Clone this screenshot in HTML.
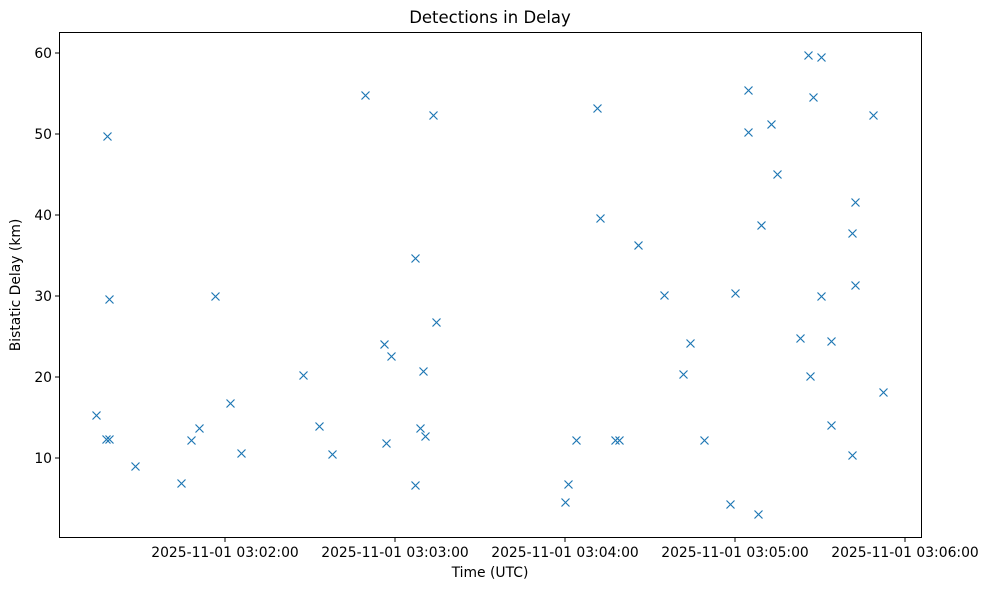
<!DOCTYPE html>
<html><head><meta charset="utf-8"><style>body{margin:0;background:#fff}svg{display:block}text{font-family:"DejaVu Sans","Liberation Sans",sans-serif;fill:#000}</style></head><body>
<svg width="988" height="590" viewBox="0 0 988 590" xmlns="http://www.w3.org/2000/svg">
<rect width="988" height="590" fill="#fff"/>
<text x="490" y="23" font-size="16.5" text-anchor="middle">Detections in Delay</text>
<rect x="59.5" y="32.5" width="862" height="505" fill="none" stroke="#000" stroke-width="1"/>
<g stroke="#000" stroke-width="1">
<line x1="59" x2="55" y1="458" y2="458"/><line x1="59" x2="55" y1="377" y2="377"/><line x1="59" x2="55" y1="296" y2="296"/><line x1="59" x2="55" y1="215" y2="215"/><line x1="59" x2="55" y1="134" y2="134"/><line x1="59" x2="55" y1="53" y2="53"/>
<line x1="225" x2="225" y1="538" y2="542"/><line x1="395" x2="395" y1="538" y2="542"/><line x1="565" x2="565" y1="538" y2="542"/><line x1="735" x2="735" y1="538" y2="542"/><line x1="905" x2="905" y1="538" y2="542"/>
</g>
<g font-size="13.9" text-anchor="end">
<text x="52" y="463">10</text><text x="52" y="382">20</text><text x="52" y="301">30</text><text x="52" y="220">40</text><text x="52" y="139">50</text><text x="52" y="58">60</text>
</g>
<g font-size="13.9" text-anchor="middle">
<text x="225" y="557">2025-11-01 03:02:00</text><text x="395" y="557">2025-11-01 03:03:00</text><text x="565" y="557">2025-11-01 03:04:00</text><text x="735" y="557">2025-11-01 03:05:00</text><text x="905" y="557">2025-11-01 03:06:00</text>
<text x="490" y="577">Time (UTC)</text>
</g>
<text transform="translate(20,285) rotate(-90)" font-size="13.9" text-anchor="middle">Bistatic Delay (km)</text>
<defs><path id="m" d="M-4 -4L4 4M-4 4L4 -4"/></defs>
<g stroke="#1f77b4" stroke-width="1.2" fill="none" transform="translate(0.5,0.5)">
<use href="#m" x="96" y="415"/><use href="#m" x="107" y="136"/><use href="#m" x="106" y="439"/><use href="#m" x="109" y="439"/><use href="#m" x="109" y="299"/><use href="#m" x="135" y="466"/><use href="#m" x="181" y="483"/><use href="#m" x="191" y="440"/><use href="#m" x="199" y="428"/><use href="#m" x="215" y="296"/><use href="#m" x="230" y="403"/><use href="#m" x="241" y="453"/><use href="#m" x="303" y="375"/><use href="#m" x="319" y="426"/><use href="#m" x="332" y="454"/><use href="#m" x="365" y="95"/><use href="#m" x="384" y="344"/><use href="#m" x="391" y="356"/><use href="#m" x="386" y="443"/><use href="#m" x="415" y="258"/><use href="#m" x="415" y="485"/><use href="#m" x="420" y="428"/><use href="#m" x="423" y="371"/><use href="#m" x="425" y="436"/><use href="#m" x="433" y="115"/><use href="#m" x="436" y="322"/><use href="#m" x="565" y="502"/><use href="#m" x="568" y="484"/><use href="#m" x="576" y="440"/><use href="#m" x="597" y="108"/><use href="#m" x="600" y="218"/><use href="#m" x="615" y="440"/><use href="#m" x="619" y="440"/><use href="#m" x="638" y="245"/><use href="#m" x="664" y="295"/><use href="#m" x="683" y="374"/><use href="#m" x="690" y="343"/><use href="#m" x="704" y="440"/><use href="#m" x="730" y="504"/><use href="#m" x="735" y="293"/><use href="#m" x="748" y="90"/><use href="#m" x="748" y="132"/><use href="#m" x="758" y="514"/><use href="#m" x="761" y="225"/><use href="#m" x="771" y="124"/><use href="#m" x="777" y="174"/><use href="#m" x="800" y="338"/><use href="#m" x="808" y="55"/><use href="#m" x="810" y="376"/><use href="#m" x="813" y="97"/><use href="#m" x="821" y="57"/><use href="#m" x="821" y="296"/><use href="#m" x="831" y="341"/><use href="#m" x="831" y="425"/><use href="#m" x="852" y="455"/><use href="#m" x="852" y="233"/><use href="#m" x="855" y="202"/><use href="#m" x="855" y="285"/><use href="#m" x="873" y="115"/><use href="#m" x="883" y="392"/>
</g>
</svg>
</body></html>
